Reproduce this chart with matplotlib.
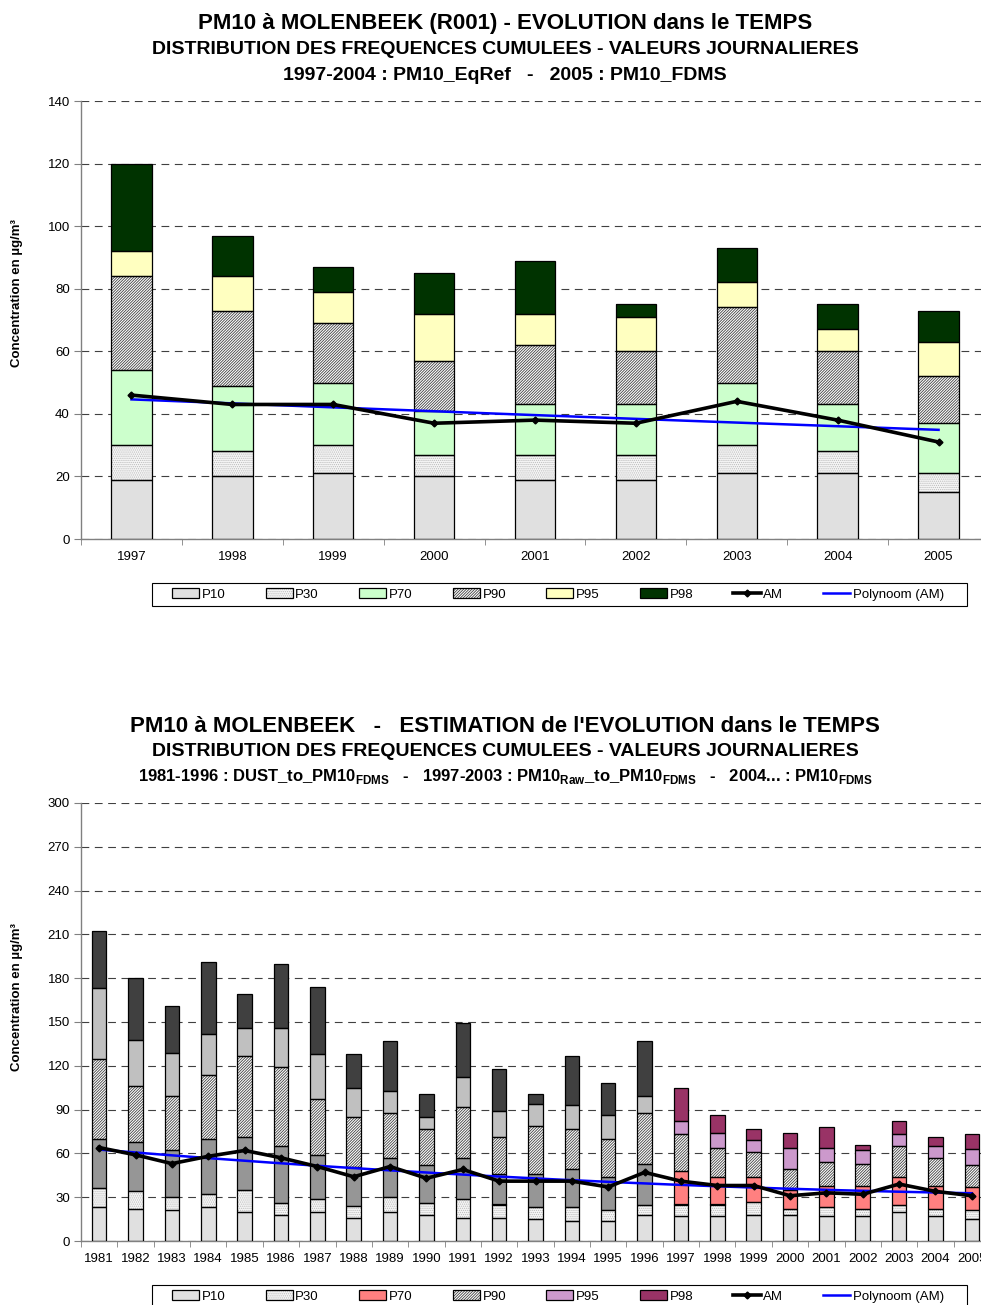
import matplotlib.pyplot as plt
import numpy as np
from matplotlib.patches import Patch, Rectangle
from matplotlib.lines import Line2D
from matplotlib.legend_handler import HandlerTuple

plt.rcParams['font.family'] = ['Liberation Sans', 'DejaVu Sans']
plt.rcParams['mathtext.fontset'] = 'custom'
plt.rcParams['mathtext.rm'] = 'Liberation Sans'
plt.rcParams['mathtext.bf'] = 'Liberation Sans:bold'
plt.rcParams['hatch.linewidth'] = 0.6

# --- Molenbeek R001, 1997-2005 (percentiles, ug/m3) ---
years_a = ['1997', '1998', '1999', '2000', '2001', '2002', '2003', '2004', '2005']
p10_a = [19, 20, 21, 20, 19, 19, 21, 21, 15]
p30_a = [30, 28, 30, 27, 27, 27, 30, 28, 21]
p70_a = [54, 49, 50, 41, 43, 43, 50, 43, 37]
p90_a = [84, 73, 69, 57, 62, 60, 74, 60, 52]
p95_a = [92, 84, 79, 72, 72, 71, 82, 67, 63]
p98_a = [120, 97, 87, 85, 89, 75, 93, 75, 73]
am_a = [46, 43, 43, 37, 38, 37, 44, 38, 31]

# --- estimated series 1981-2005 ---
years_b = [str(y) for y in range(1981, 2006)]
p10_b = [23, 22, 21, 23, 20, 18, 20, 16, 20, 18, 16, 16, 15, 14, 14, 18, 17, 17, 18, 18, 17, 17, 20, 17, 15]
p30_b = [36, 34, 30, 32, 35, 26, 29, 24, 30, 26, 29, 25, 23, 23, 21, 25, 25, 25, 27, 22, 23, 22, 25, 22, 21]
p70_b = [70, 68, 62, 70, 71, 65, 59, 51, 57, 52, 57, 46, 46, 49, 44, 53, 48, 44, 44, 35, 38, 38, 44, 38, 37]
p90_b = [125, 106, 99, 114, 127, 119, 97, 85, 88, 77, 92, 71, 79, 77, 70, 88, 73, 64, 61, 49, 54, 53, 65, 57, 52]
p95_b = [173, 138, 129, 142, 146, 146, 128, 105, 103, 85, 112, 89, 94, 93, 86, 99, 82, 74, 69, 64, 64, 62, 73, 65, 63]
p98_b = [212, 180, 161, 191, 169, 190, 174, 128, 137, 101, 149, 118, 101, 127, 108, 137, 105, 86, 77, 74, 78, 66, 82, 71, 73]
am_b = [64, 59, 53, 58, 62, 57, 51, 44, 51, 43, 49, 41, 41, 41, 37, 47, 41, 38, 38, 31, 33, 32, 39, 34, 31]
first_fdms_year = 1997

labels = ['P10', 'P30', 'P70', 'P90', 'P95', 'P98']

# fill styles per percentile band: (face, hatch, hatch colour)
P10 = ('#e0e0e0', None, 'black')
P30 = ('#f6f6f6', '........', '#bcbcbc')
P90 = ('white', '////////////', '#404040')

W, H = 981, 1305


def draw_stack(ax, cats, levels, faces, hatches, hcolors):
    x = np.arange(len(cats))
    bottom = np.zeros(len(cats))
    for lev, face, hatch, hc in zip(levels, faces, hatches, hcolors):
        lev = np.asarray(lev, float)
        h = lev - bottom
        ax.bar(x, h, 0.4, bottom=bottom, color=face, hatch=hatch,
               edgecolor=hc, linewidth=0, zorder=2)
        ax.bar(x, h, 0.4, bottom=bottom, fill=False, edgecolor='black',
               linewidth=0.9, zorder=3)
        bottom = lev


def draw_lines(ax, am):
    t = np.arange(len(am))
    coef = np.polyfit(t, am, 2)
    tt = np.linspace(0, len(am) - 1, 200)
    ax.plot(tt, np.polyval(coef, tt), color='#0000ff', lw=1.8, zorder=4)
    ax.plot(t, am, color='black', lw=2.6, marker='D', ms=3.5, zorder=5)


def style_axes(ax, cats, ymax, ystep):
    n = len(cats)
    ax.set_xlim(-0.5, n - 0.5)
    ax.set_ylim(0, ymax)
    ax.set_yticks(np.arange(0, ymax + 1, ystep))
    ax.set_xticks(np.arange(n))
    ax.set_xticklabels(cats)
    ax.set_xticks(np.arange(n + 1) - 0.5, minor=True)
    ax.tick_params(axis='x', which='major', length=0, pad=9, labelsize=9.5)
    ax.tick_params(axis='x', which='minor', length=4, color='#808080')
    ax.tick_params(axis='y', length=5, color='#808080', pad=3, labelsize=9.5)
    for s in ('top', 'right'):
        ax.spines[s].set_visible(False)
    for s in ('left', 'bottom'):
        ax.spines[s].set_color('#808080')
        ax.spines[s].set_linewidth(1.0)
    ax.yaxis.grid(True, linestyle=(0, (7, 5)), color='#404040', lw=0.8)
    ax.set_axisbelow(True)


def legend(fig, y_mid, face70, face95, face98):
    outline = dict(fill=False, edgecolor='black', linewidth=0.9)
    handles = [
        Patch(facecolor=P10[0], edgecolor='black', linewidth=0.9),
        (Patch(facecolor=P30[0], hatch=P30[1], edgecolor=P30[2], linewidth=0), Patch(**outline)),
        Patch(facecolor=face70, edgecolor='black', linewidth=0.9),
        (Patch(facecolor=P90[0], hatch=P90[1], edgecolor=P90[2], linewidth=0), Patch(**outline)),
        Patch(facecolor=face95, edgecolor='black', linewidth=0.9),
        Patch(facecolor=face98, edgecolor='black', linewidth=0.9),
        Line2D([], [], color='black', lw=2.6, marker='D', ms=3.5),
        Line2D([], [], color='#0000ff', lw=1.8),
    ]
    names = labels + ['AM', 'Polynoom (AM)']
    fig.legend(handles, names, loc='center left', ncol=8,
               bbox_to_anchor=(172 / W, 1 - y_mid / H),
               borderaxespad=0, borderpad=0, fontsize=9.5, handlelength=2.05,
               handleheight=0.75, handletextpad=0.2, columnspacing=3.05,
               frameon=False,
               handler_map={tuple: HandlerTuple(ndivide=1, pad=0)})
    fig.add_artist(Rectangle((152 / W, 1 - (y_mid + 11.5) / H), 815 / W, 23 / H,
                             transform=fig.transFigure, fill=False,
                             edgecolor='black', linewidth=0.8))


fig = plt.figure(figsize=(9.81, 13.05), dpi=100)

# ---------- upper chart ----------
ax1 = fig.add_axes([81 / W, 1 - 539 / H, 908 / W, 438 / H])
draw_stack(ax1, years_a, [p10_a, p30_a, p70_a, p90_a, p95_a, p98_a],
           [P10[0], P30[0], '#ccffcc', P90[0], '#ffffc0', '#003300'],
           [None, P30[1], None, P90[1], None, None],
           ['black', P30[2], 'black', P90[2], 'black', 'black'])
draw_lines(ax1, am_a)
style_axes(ax1, years_a, 140, 20)
legend(fig, 594.5, '#ccffcc', '#ffffc0', '#003300')

fig.text(505 / W, 1 - 24 / H, 'PM10 à MOLENBEEK (R001) - EVOLUTION dans le TEMPS',
         ha='center', va='center', fontsize=16, fontweight='bold')
fig.text(505 / W, 1 - 50 / H, 'DISTRIBUTION DES FREQUENCES CUMULEES - VALEURS JOURNALIERES',
         ha='center', va='center', fontsize=14, fontweight='bold')
fig.text(505 / W, 1 - 75 / H, '1997-2004 : PM10_EqRef   -   2005 : PM10_FDMS',
         ha='center', va='center', fontsize=14, fontweight='bold')
fig.text(17 / W, 1 - 293 / H, 'Concentration en µg/m³', rotation=90,
         ha='center', va='center', fontsize=9.5, fontweight='bold')

# ---------- lower chart ----------
new = np.array([int(y) >= first_fdms_year for y in years_b])
c70 = np.where(new, '#ff8080', '#969696')
c95 = np.where(new, '#cc99cc', '#c0c0c0')
c98 = np.where(new, '#993366', '#404040')

ax2 = fig.add_axes([81 / W, 1 - 1241 / H, 909 / W, 438 / H])
draw_stack(ax2, years_b, [p10_b, p30_b, p70_b, p90_b, p95_b, p98_b],
           [P10[0], P30[0], list(c70), P90[0], list(c95), list(c98)],
           [None, P30[1], None, P90[1], None, None],
           ['black', P30[2], 'black', P90[2], 'black', 'black'])
draw_lines(ax2, am_b)
style_axes(ax2, years_b, 300, 30)
legend(fig, 1296.5, '#ff8080', '#cc99cc', '#993366')

fig.text(505 / W, 1 - 727 / H, "PM10 à MOLENBEEK   -   ESTIMATION de l'EVOLUTION dans le TEMPS",
         ha='center', va='center', fontsize=16, fontweight='bold')
fig.text(505 / W, 1 - 752 / H, 'DISTRIBUTION DES FREQUENCES CUMULEES - VALEURS JOURNALIERES',
         ha='center', va='center', fontsize=14, fontweight='bold')
fig.text(505 / W, 1 - 777 / H,
         r'1981-1996 : DUST_to_PM10$_{\mathbf{FDMS}}$   -   1997-2003 : PM10$_{\mathbf{Raw}}$_to_PM10$_{\mathbf{FDMS}}$'
         r'   -   2004... : PM10$_{\mathbf{FDMS}}$',
         ha='center', va='center', fontsize=12, fontweight='bold')
fig.text(17 / W, 1 - 997 / H, 'Concentration en µg/m³', rotation=90,
         ha='center', va='center', fontsize=9.5, fontweight='bold')

fig.savefig('out.png', dpi=100)
